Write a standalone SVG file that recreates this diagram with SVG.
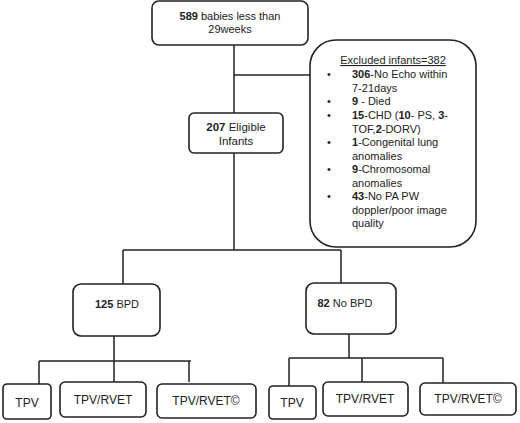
<svg xmlns="http://www.w3.org/2000/svg" width="520" height="423" viewBox="0 0 520 423">
<style>
.box{fill:#fff;stroke:#222;stroke-width:1.6}
.ln{fill:none;stroke:#222;stroke-width:1.5}
.t{font-family:"Liberation Sans",Arial,sans-serif;font-size:11px;fill:#222}
.c{text-anchor:middle}
.b{font-weight:bold}
.s{font-size:12px}
.m{font-size:11.5px}
</style>
<rect width="520" height="423" fill="#fff"/>
<g id="connectors">
<path class="ln" d="M234 45V250"/>
<path class="ln" d="M234 75H310" stroke="#777"/>
<path class="ln" d="M123 250H341M123 250V284M341 250V283"/>
<path class="ln" d="M114 336V383M39 361H191M39 361V384M189 361V382"/>
<path class="ln" d="M349 334V358M289 358H443M289 358V386M362 358V382M443 358V383"/>
</g>
<g id="n589">
<rect class="box" x="152" y="1" width="156" height="44" rx="7"/>
<text class="t c" x="230" y="20"><tspan class="b">589</tspan> babies less than</text>
<text class="t c" x="230" y="33">29weeks</text>
</g>
<g id="excluded">
<rect class="box" x="310" y="40" width="166" height="207" rx="26"/>
<text class="t c" x="393" y="64" text-decoration="underline">Excluded infants=382</text>
<g class="t">
<text x="327" y="78">•</text><text x="352" y="78"><tspan class="b">306</tspan>-No Echo within</text>
<text x="352" y="92">7-21days</text>
<text x="327" y="105">•</text><text x="352" y="105"><tspan class="b">9</tspan> - Died</text>
<text x="327" y="119">•</text><text x="352" y="119"><tspan class="b">15</tspan>-CHD (<tspan class="b">10</tspan>- PS, <tspan class="b">3</tspan>-</text>
<text x="352" y="133">TOF,<tspan class="b">2</tspan>-DORV)</text>
<text x="327" y="146">•</text><text x="352" y="146"><tspan class="b">1</tspan>-Congenital lung</text>
<text x="352" y="160">anomalies</text>
<text x="327" y="173">•</text><text x="352" y="173"><tspan class="b">9</tspan>-Chromosomal</text>
<text x="352" y="187">anomalies</text>
<text x="327" y="200">•</text><text x="352" y="200"><tspan class="b">43</tspan>-No PA PW</text>
<text x="352" y="214">doppler/poor image</text>
<text x="352" y="227">quality</text>
</g>
</g>
<g id="n207">
<rect class="box" x="189" y="113" width="94" height="40" rx="5"/>
<text class="t c m" x="236" y="131"><tspan class="b">207</tspan> Eligible</text>
<text class="t c m" x="236" y="145">Infants</text>
</g>
<g id="bpd">
<rect class="box" x="73" y="284" width="87" height="52" rx="8"/>
<text class="t c" x="117" y="308"><tspan class="b">125</tspan> BPD</text>
</g>
<g id="nobpd">
<rect class="box" x="306" y="283" width="90" height="51" rx="8"/>
<text class="t c" x="345" y="307"><tspan class="b">82</tspan> No BPD</text>
</g>
<g id="l_tpv">
<rect class="box" x="3" y="384" width="48" height="35" rx="4"/>
<text class="t c s" x="27" y="407">TPV</text>
</g>
<g id="l_tpvrvet">
<rect class="box" x="60" y="382" width="86" height="35" rx="5"/>
<text class="t c s" x="103" y="404">TPV/RVET</text>
</g>
<g id="l_tpvrvetc">
<rect class="box" x="157" y="384" width="99" height="34" rx="5"/>
<text class="t c s" x="206" y="405">TPV/RVET©</text>
</g>
<g id="r_tpv">
<rect class="box" x="269" y="386" width="47" height="33" rx="4"/>
<text class="t c s" x="292" y="407">TPV</text>
</g>
<g id="r_tpvrvet">
<rect class="box" x="323" y="382" width="85" height="34" rx="5"/>
<text class="t c s" x="365" y="403">TPV/RVET</text>
</g>
<g id="r_tpvrvetc">
<rect class="box" x="420" y="383" width="96" height="32" rx="5"/>
<text class="t c s" x="468" y="403">TPV/RVET©</text>
</g>
</svg>
